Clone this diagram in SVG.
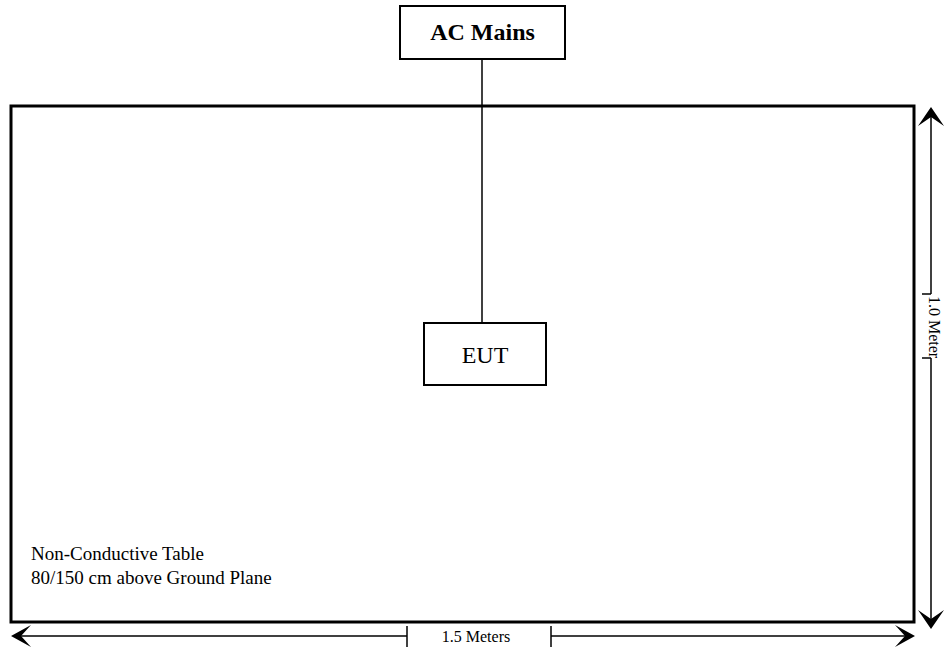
<svg xmlns="http://www.w3.org/2000/svg" width="945" height="653" viewBox="0 0 945 653">
<style>
.t{font-family:"Liberation Serif","Times New Roman",serif;fill:#000}
.box{fill:#fff;stroke:#000;stroke-width:2}
.ln{stroke:#000;stroke-width:1.5;fill:none}
.ah{fill:#000;stroke:none}
</style>
<rect width="945" height="653" fill="#fff"/>
<g id="table">
<rect x="11" y="106" width="903" height="516" fill="none" stroke="#000" stroke-width="3"/>
<text class="t" x="31" y="560" font-size="19">Non-Conductive Table</text>
<text class="t" x="31" y="584" font-size="19">80/150 cm above Ground Plane</text>
</g>
<g id="connectors">
<line class="ln" x1="482" y1="59" x2="482" y2="323"/>
</g>
<g id="ac-mains">
<rect class="box" x="400" y="6" width="165" height="53"/>
<text class="t" x="482.5" y="40" font-size="24" font-weight="bold" text-anchor="middle">AC Mains</text>
</g>
<g id="eut">
<rect class="box" x="424" y="323" width="122" height="62"/>
<text class="t" x="485" y="363" font-size="24" text-anchor="middle">EUT</text>
</g>
<g id="dim-vertical">
<line class="ln" x1="931" y1="110" x2="931" y2="294"/>
<line class="ln" x1="922" y1="294" x2="931" y2="294"/>
<line class="ln" x1="931" y1="358" x2="931" y2="625"/>
<line class="ln" x1="922" y1="358" x2="931" y2="358"/>
<path class="ah" d="M931,107 L944,126 L931,117 L918,126 Z"/>
<path class="ah" d="M931,629 L944,610 L931,619 L918,610 Z"/>
<text class="t" font-size="16" text-anchor="middle" transform="translate(929,327) rotate(90)">1.0 Meter</text>
</g>
<g id="dim-horizontal">
<line class="ln" x1="15" y1="636" x2="407" y2="636"/>
<line class="ln" x1="407" y1="626" x2="407" y2="647"/>
<line class="ln" x1="551" y1="636" x2="911" y2="636"/>
<line class="ln" x1="551" y1="626" x2="551" y2="647"/>
<path class="ah" d="M11,636 L31,625 L21,636 L31,647 Z"/>
<path class="ah" d="M915,636 L895,625 L905,636 L895,647 Z"/>
<text class="t" x="476" y="642" font-size="16" text-anchor="middle">1.5 Meters</text>
</g>
</svg>
